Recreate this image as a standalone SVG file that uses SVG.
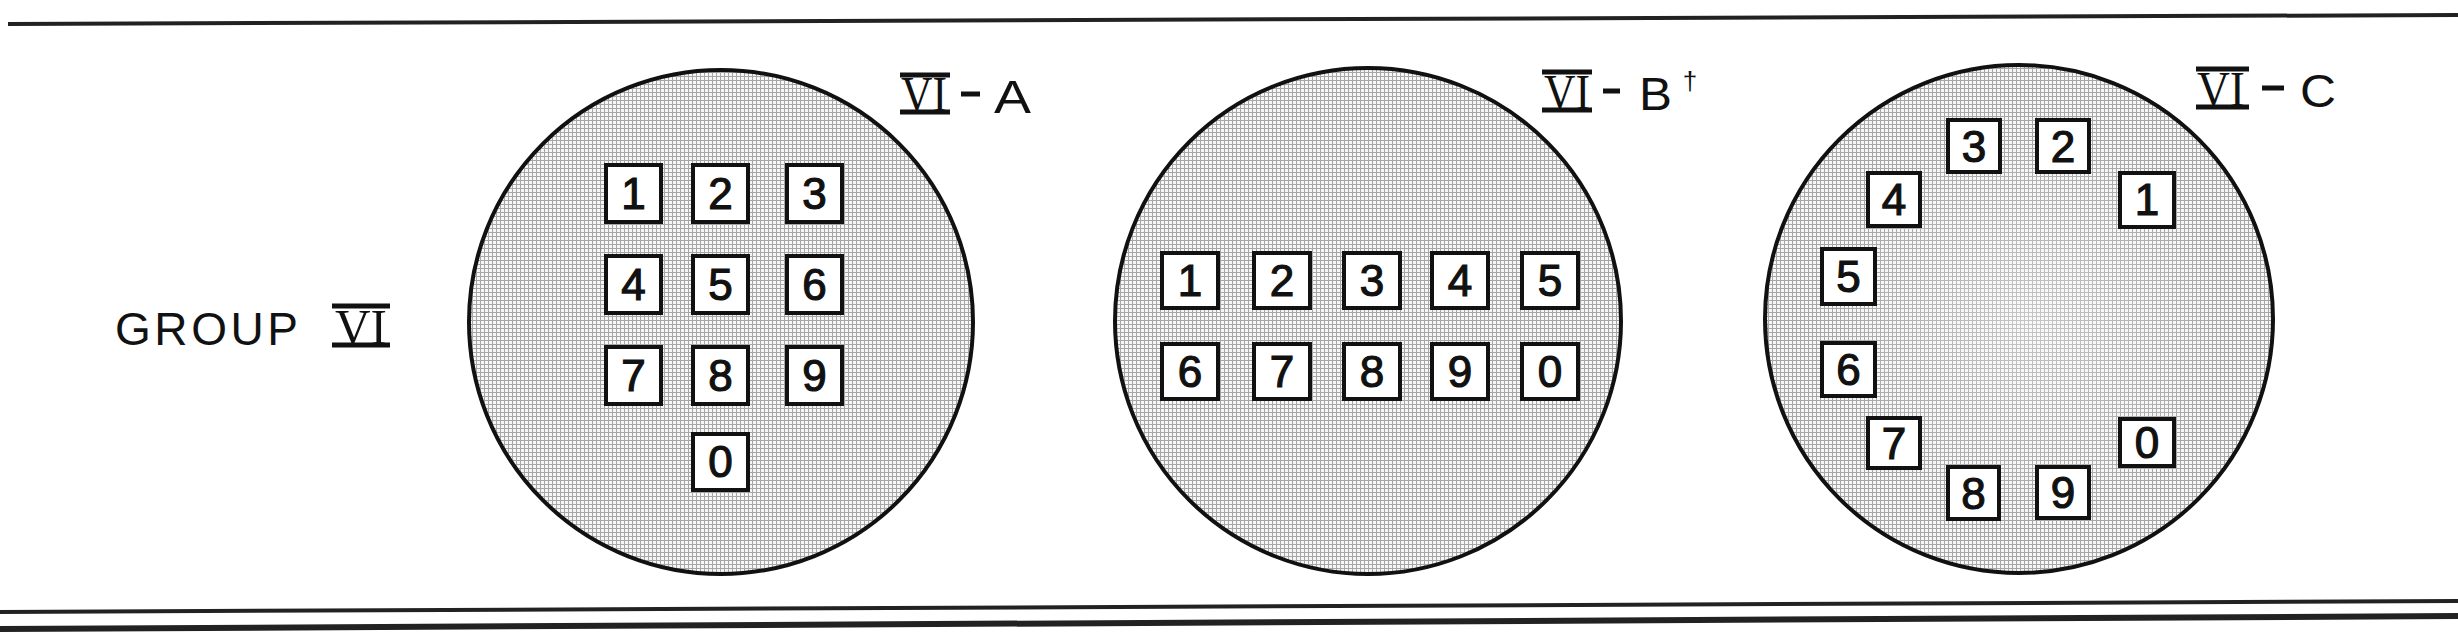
<svg xmlns="http://www.w3.org/2000/svg" width="2458" height="641" viewBox="0 0 2458 641">
<style>
.lbl{font-family:"Liberation Sans",Arial,sans-serif;font-size:46px;fill:#111}
.rom{font-family:"Liberation Serif","Times New Roman",serif;font-size:50px;fill:#111}
.bar{stroke:#111;stroke-width:5}
.disc{stroke:#111;stroke-width:4}
.box rect{fill:#fff;stroke:#111;stroke-width:4}
.box text{font-family:"Liberation Sans",Arial,sans-serif;font-size:44px;fill:#111;stroke:#111;stroke-width:1.2;text-anchor:middle}
.rule{stroke:#222;fill:none}
</style>
<defs>
<pattern id="grid" width="4" height="4" patternUnits="userSpaceOnUse">
<rect width="4" height="4" fill="#f6f6f6"/>
<path d="M0 0.5H4M0.5 0V4" stroke="#a6a6a6" stroke-width="1"/>
</pattern>
<radialGradient id="light" cx="0.5" cy="0.5" r="0.5">
<stop offset="0" stop-color="#fff" stop-opacity="0.35"/>
<stop offset="1" stop-color="#fff" stop-opacity="0"/>
</radialGradient>
</defs>
<rect width="2458" height="641" fill="#fff"/>
<g id="rules">
<line class="rule" x1="8" y1="24" x2="2458" y2="15" stroke-width="4"/>
<line class="rule" x1="0" y1="612" x2="2458" y2="601" stroke-width="4"/>
<line class="rule" x1="0" y1="629" x2="2458" y2="616" stroke-width="6"/>
</g>
<g id="group-label">
<text class="lbl" x="115" y="345" textLength="183" lengthAdjust="spacing">GROUP</text>
<text class="rom" x="361" y="344" text-anchor="middle" textLength="52" lengthAdjust="spacingAndGlyphs">VI</text>
<line class="bar" x1="332" y1="306" x2="390" y2="306"/>
<line class="bar" x1="332" y1="345" x2="390" y2="345"/>
</g>
<g id="disc-A">
<circle class="disc" cx="721" cy="322" r="252" fill="url(#grid)"/>
<g id="label-A">
<text class="rom" x="924" y="111" text-anchor="middle" textLength="46" lengthAdjust="spacingAndGlyphs">VI</text>
<line class="bar" x1="900" y1="75" x2="950" y2="75"/>
<line class="bar" x1="900" y1="112" x2="950" y2="112"/>
<line class="bar" x1="961" y1="94" x2="980" y2="94"/>
<text class="lbl" x="994" y="113" textLength="37" lengthAdjust="spacingAndGlyphs">A</text>
</g>
<g class="box" id="A1"><rect x="606" y="165" width="55" height="57"/><text x="633.5" y="209">1</text></g>
<g class="box" id="A2"><rect x="693" y="165" width="55" height="57"/><text x="720.5" y="209">2</text></g>
<g class="box" id="A3"><rect x="787" y="165" width="55" height="57"/><text x="814.5" y="209">3</text></g>
<g class="box" id="A4"><rect x="606" y="256" width="55" height="57"/><text x="633.5" y="300">4</text></g>
<g class="box" id="A5"><rect x="693" y="256" width="55" height="57"/><text x="720.5" y="300">5</text></g>
<g class="box" id="A6"><rect x="787" y="256" width="55" height="57"/><text x="814.5" y="300">6</text></g>
<g class="box" id="A7"><rect x="606" y="347" width="55" height="57"/><text x="633.5" y="391">7</text></g>
<g class="box" id="A8"><rect x="693" y="347" width="55" height="57"/><text x="720.5" y="391">8</text></g>
<g class="box" id="A9"><rect x="787" y="347" width="55" height="57"/><text x="814.5" y="391">9</text></g>
<g class="box" id="A0"><rect x="693" y="434" width="55" height="56"/><text x="720.5" y="477">0</text></g>
</g>
<g id="disc-B">
<circle class="disc" cx="1368" cy="321" r="253" fill="url(#grid)"/>
<g id="label-B">
<text class="rom" x="1567" y="109" text-anchor="middle" textLength="46" lengthAdjust="spacingAndGlyphs">VI</text>
<line class="bar" x1="1542" y1="72" x2="1592" y2="72"/>
<line class="bar" x1="1542" y1="110" x2="1592" y2="110"/>
<line class="bar" x1="1603" y1="91" x2="1620" y2="91"/>
<text class="lbl" x="1639" y="110" textLength="33" lengthAdjust="spacingAndGlyphs">B</text>
<text class="lbl" x="1690" y="90" style="font-size:26px" text-anchor="middle">†</text>
</g>
<g class="box" id="B1"><rect x="1162" y="253" width="56" height="55"/><text x="1190" y="296">1</text></g>
<g class="box" id="B2"><rect x="1254" y="253" width="56" height="55"/><text x="1282" y="296">2</text></g>
<g class="box" id="B3"><rect x="1344" y="253" width="56" height="55"/><text x="1372" y="296">3</text></g>
<g class="box" id="B4"><rect x="1432" y="253" width="56" height="55"/><text x="1460" y="296">4</text></g>
<g class="box" id="B5"><rect x="1522" y="253" width="56" height="55"/><text x="1550" y="296">5</text></g>
<g class="box" id="B6"><rect x="1162" y="344" width="56" height="55"/><text x="1190" y="387">6</text></g>
<g class="box" id="B7"><rect x="1254" y="344" width="56" height="55"/><text x="1282" y="387">7</text></g>
<g class="box" id="B8"><rect x="1344" y="344" width="56" height="55"/><text x="1372" y="387">8</text></g>
<g class="box" id="B9"><rect x="1432" y="344" width="56" height="55"/><text x="1460" y="387">9</text></g>
<g class="box" id="B0"><rect x="1522" y="344" width="56" height="55"/><text x="1550" y="387">0</text></g>
</g>
<g id="disc-C">
<circle class="disc" cx="2019" cy="319" r="254" fill="url(#grid)"/>
<circle cx="2030" cy="320" r="200" fill="url(#light)"/>
<g id="label-C">
<text class="rom" x="2221" y="106" text-anchor="middle" textLength="48" lengthAdjust="spacingAndGlyphs">VI</text>
<line class="bar" x1="2196" y1="69" x2="2249" y2="69"/>
<line class="bar" x1="2196" y1="107" x2="2249" y2="107"/>
<line class="bar" x1="2262" y1="88" x2="2284" y2="88"/>
<text class="lbl" x="2300" y="107" textLength="36" lengthAdjust="spacingAndGlyphs">C</text>
</g>
<g class="box" id="C3"><rect x="1948" y="120" width="52" height="52"/><text x="1974" y="162">3</text></g>
<g class="box" id="C2"><rect x="2037" y="120" width="52" height="52"/><text x="2063" y="162">2</text></g>
<g class="box" id="C4"><rect x="1868" y="173" width="52" height="53"/><text x="1894" y="215">4</text></g>
<g class="box" id="C1"><rect x="2120" y="173" width="54" height="54"/><text x="2147" y="215">1</text></g>
<g class="box" id="C5"><rect x="1822" y="249" width="53" height="55"/><text x="1848.5" y="292">5</text></g>
<g class="box" id="C6"><rect x="1822" y="343" width="53" height="53"/><text x="1848.5" y="385">6</text></g>
<g class="box" id="C7"><rect x="1868" y="418" width="52" height="50"/><text x="1894" y="459">7</text></g>
<g class="box" id="C0"><rect x="2120" y="419" width="54" height="47"/><text x="2147" y="458">0</text></g>
<g class="box" id="C8"><rect x="1948" y="467" width="51" height="52"/><text x="1973.5" y="509">8</text></g>
<g class="box" id="C9"><rect x="2037" y="467" width="52" height="51"/><text x="2063" y="508">9</text></g>
</g>
</svg>
